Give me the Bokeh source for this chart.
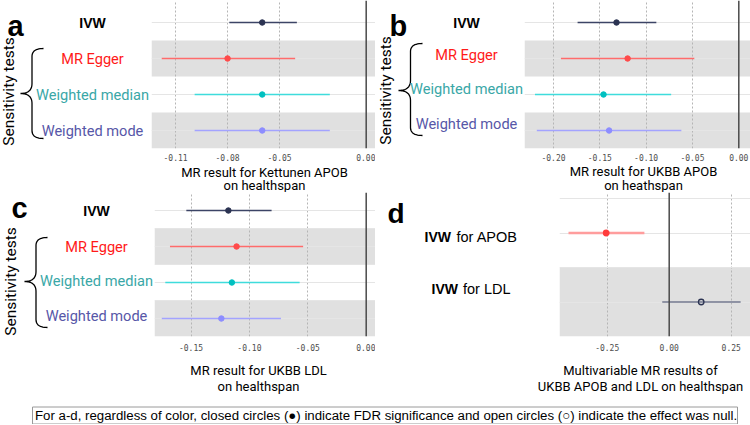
import numpy as np
from bokeh.plotting import figure
from bokeh.layouts import row, column
from bokeh.models import Range1d, FixedTicker, NumeralTickFormatter, Span
from bokeh.core.properties import value
from bokeh.embed import file_html
from bokeh.resources import INLINE

# ---------------- data ----------------
methods = ["IVW", "MR Egger", "Weighted median", "Weighted mode"]
method_rows = [4, 3, 2, 1]

a_est = [-0.060, -0.080, -0.060, -0.060]
a_lo = [-0.079, -0.118, -0.099, -0.099]
a_hi = [-0.040, -0.041, -0.021, -0.021]

b_est = [-0.132, -0.120, -0.146, -0.140]
b_lo = [-0.174, -0.192, -0.220, -0.218]
b_hi = [-0.089, -0.048, -0.073, -0.062]

c_est = [-0.118, -0.111, -0.115, -0.124]
c_lo = [-0.154, -0.168, -0.172, -0.175]
c_hi = [-0.081, -0.054, -0.057, -0.073]

d_labels = ["IVW for APOB", "IVW for LDL"]
d_rows = [2, 1]
d_est = [-0.254, 0.129]
d_lo = [-0.406, -0.028]
d_hi = [-0.100, 0.288]
d_significant = [True, False]

a_ticks = [-0.11, -0.08, -0.05, 0.00]
b_ticks = [-0.20, -0.15, -0.10, -0.05, 0.00]
c_ticks = [-0.15, -0.10, -0.05, 0.00]
d_ticks = [-0.25, 0.00, 0.25]

a_title = ["MR result for Kettunen APOB", "on healthspan"]
b_title = ["MR result for UKBB APOB", "on heathspan"]
c_title = ["MR result for UKBB LDL", "on healthspan"]
d_title = ["Multivariable MR results of", "UKBB APOB and LDL on healthspan"]

group_label = "Sensitivity tests"
panel_letters = ["a", "b", "c", "d"]
footer_note = ("For a-d, regardless of color, closed circles (\u25cf) indicate FDR significance "
               "and open circles (\u25cb) indicate the effect was null.")

line_colors = ["#3c4466", "#ff6b6b", "#3fdcdc", "#a3a3ff"]
point_colors = ["#2b3352", "#ff4a4a", "#00c0c0", "#8d8dff"]
label_colors = ["#000000", "#ff1a1a", "#3aa7a7", "#5757a8"]
d_line_colors = ["#ff9d9d", "#3c4466"]
d_point_colors = ["#ff3c3c", "#2b3352"]
d_line_widths = [2.5, 1.2]

BAND = "#e0e0e0"
W = 750


# ---------------- helpers ----------------
def plot_fig(width, height, bb, bt, xr, yr, ticks, standoff, bands):
    p = figure(width=width, height=height, x_range=Range1d(*xr), y_range=yr,
               toolbar_location=None, output_backend="svg", y_axis_location=None,
               min_border_left=0, min_border_right=0, min_border_top=bt,
               min_border_bottom=bb)
    p.outline_line_color = None
    p.quad(left=xr[0], right=xr[1], bottom=[b - 0.5 for b in bands],
           top=[b + 0.5 for b in bands], fill_color=BAND, line_color=None, level="image")
    p.xgrid.ticker = FixedTicker(ticks=[t for t in ticks if t != 0])
    p.xgrid.grid_line_color = "#b5b5b5"
    p.xgrid.grid_line_dash = "2 2"
    p.xgrid.grid_line_width = 1
    ax = p.xaxis[0]
    ax.ticker = FixedTicker(ticks=ticks)
    ax.formatter = NumeralTickFormatter(format="0.00")
    ax.axis_line_color = None
    ax.major_tick_line_color = None
    ax.minor_tick_line_color = None
    ax.major_tick_out = 0
    ax.major_tick_in = 0
    ax.minor_tick_out = 0
    ax.major_label_standoff = standoff
    ax.major_label_text_font = "DejaVu Sans Mono"
    ax.major_label_text_font_size = "8px"
    ax.major_label_text_color = "#4d4d4d"
    p.add_layout(Span(location=0, dimension="height", line_color="#4a4a4a", line_width=1.5))
    return p


def lab_fig(width, height, bb, bt, left, yr):
    p = figure(width=width, height=height, x_range=Range1d(left, left + width), y_range=yr,
               toolbar_location=None, output_backend="svg", x_axis_location=None,
               y_axis_location=None, min_border_left=0, min_border_right=0,
               min_border_top=bt, min_border_bottom=bb)
    p.outline_line_color = None
    p.grid.visible = False
    return p


def strip_fig(height, top_px):
    p = figure(width=W, height=height, x_range=Range1d(0, W),
               y_range=Range1d(top_px + height, top_px),
               toolbar_location=None, output_backend="svg", x_axis_location=None,
               y_axis_location=None, min_border_left=0, min_border_right=0,
               min_border_top=0, min_border_bottom=0)
    p.outline_line_color = None
    p.grid.visible = False
    return p


def titles(p, lines, x, ys):
    p.text(x=[x, x], y=ys, text=lines, text_font=value("Roboto"),
           text_font_size=value("13px"), text_color="black",
           text_align="center", text_baseline="middle")


def yconv(px, fb, unit):
    return 0.5 + (fb - px) / unit


def method_labels(p, cx, offsets, unit):
    ys = [r - o / unit for r, o in zip(method_rows, offsets)]
    p.text(x=[cx], y=[ys[0]], text=[methods[0]], text_font=value("Liberation Sans"),
           text_font_style="bold", text_font_size=value("14px"), text_color="black",
           text_align="center", text_baseline="middle")
    p.text(x=[cx] * 3, y=ys[1:], text=methods[1:], text_color=label_colors[1:],
           text_font=value("Roboto"), text_font_size=value("14.6px"),
           text_align="center", text_baseline="middle")


def brace(p, xt, xh, yt, ym, yb, fb, unit, r1=8, r2=10):
    xb = xt + 0.5 * (xh - xt)
    t = np.linspace(0, 1, 14)

    def qb(p0, c, p1):
        return (list((1 - t) ** 2 * p0[0] + 2 * (1 - t) * t * c[0] + t ** 2 * p1[0]),
                list((1 - t) ** 2 * p0[1] + 2 * (1 - t) * t * c[1] + t ** 2 * p1[1]))
    xs, ys = [], []
    for seg in [qb((xh, yt), (xb, yt), (xb, yt + r1)),
                ([xb, xb], [yt + r1, ym - r2]),
                qb((xb, ym - r2), (xb, ym), (xt, ym)),
                qb((xt, ym), (xb, ym), (xb, ym + r2)),
                ([xb, xb], [ym + r2, yb - r1]),
                qb((xb, yb - r1), (xb, yb), (xh, yb))]:
        xs += list(seg[0])
        ys += list(seg[1])
    p.line(x=xs, y=[yconv(v, fb, unit) for v in ys], line_color="black", line_width=1.3)


def side_text(p, x, py, fb, unit):
    p.text(x=[x], y=[yconv(py, fb, unit)], text=[group_label], angle=np.pi / 2,
           text_font=value("Roboto"), text_font_size=value("15.5px"), text_color="black",
           text_align="center", text_baseline="middle")


def letter(p, x, py, fb, unit, txt, size="29px"):
    p.text(x=[x], y=[yconv(py, fb, unit)], text=[txt], text_font=value("Liberation Sans"),
           text_font_style="bold", text_font_size=value(size), text_color="black",
           text_align="left", text_baseline="alphabetic")


def method_data(p, est, lo, hi):
    p.segment(x0=lo, y0=method_rows, x1=hi, y1=method_rows, line_color=line_colors,
              line_width=1.5)
    p.scatter(x=est, y=method_rows, size=5.5, fill_color=point_colors,
              line_color=point_colors)


# ---------------- top row (page y 0..165, frame 0..148) ----------------
TOP_H, TOP_BB, TOP_FB = 165, 17, 148
yrA = Range1d(0.5, 0.5 + 148 / 36)
yrB = Range1d(0.5, 0.5 + 148 / 36)

labA = lab_fig(151, TOP_H, TOP_BB, 0, 0, yrA)
letter(labA, 7, 25, TOP_FB, 36, panel_letters[0])
side_text(labA, 8.5, 91, TOP_FB, 36)
brace(labA, 20, 43, 48, 93, 138, TOP_FB, 36)
method_labels(labA, 92, [0, 0, 0, 0], 36)

pA = plot_fig(224, TOP_H, TOP_BB, 0, (-0.1239, 0.00537), yrA, a_ticks, 5, [3, 1])
method_data(pA, a_est, a_lo, a_hi)

labB = lab_fig(149, TOP_H, TOP_BB, 0, 375, yrB)
letter(labB, 389, 25, TOP_FB, 36, panel_letters[1])
side_text(labB, 385, 90, TOP_FB, 36)
brace(labB, 398, 422, 43, 90, 135, TOP_FB, 36)
method_labels(labB, 466, [0, -4, -6, -7], 36)

pB = plot_fig(226, TOP_H, TOP_BB, 0, (-0.2313, 0.01263), yrB, b_ticks, 5, [3, 1])
method_data(pB, b_est, b_lo, b_hi)

# ---------------- title strip 1 (page y 165..192) ----------------
strip1 = strip_fig(27, 165)
titles(strip1, a_title, 264, [172, 185])
titles(strip1, b_title, 643, [170.5, 184.5])

# ---------------- bottom row (page y 192..360, frame 192..336) ----------------
BOT_H, BOT_BB, BOT_FB = 168, 24, 336
yrC = Range1d(0.5, 0.5 + 144 / 36)
yrD = Range1d(0.5, 0.5 + 144 / 69)

labC = lab_fig(154, BOT_H, BOT_BB, 0, 0, yrC)
letter(labC, 11, 207, BOT_FB, 36, panel_letters[2])
side_text(labC, 10, 281, BOT_FB, 36)
brace(labC, 24, 47, 237, 281, 327, BOT_FB, 36)
method_labels(labC, 96, [0, 0, -1.5, -3], 36)

pC = plot_fig(221, BOT_H, BOT_BB, 0, (-0.18125, 0.00796), yrC, c_ticks, 7, [3, 1])
method_data(pC, c_est, c_lo, c_hi)

labD = lab_fig(184, BOT_H, BOT_BB, 0, 375, yrD)
letter(labD, 387, 213, BOT_FB, 69, panel_letters[3], size="28px")
d_off = [4.2, -12.8]
d_label_y = [r - o / 69 for r, o in zip(d_rows, d_off)]
d_bold = [s.split(" ", 1)[0] for s in d_labels]
d_rest = [s.split(" ", 1)[1] for s in d_labels]
labD.text(x=[424, 431], y=d_label_y, text=d_bold, text_font=value("Liberation Sans"),
          text_font_style="bold", text_font_size=value("14px"), text_color="black",
          text_align="left", text_baseline="middle")
labD.text(x=[456, 462.5], y=d_label_y, text=d_rest, text_font=value("Liberation Sans"),
          text_font_size=value("14.5px"), text_color="black",
          text_align="left", text_baseline="middle")

pD = plot_fig(191, BOT_H, BOT_BB, 0, (-0.4423, 0.3278), yrD, d_ticks, 7, [1])
pD.segment(x0=d_lo, y0=d_rows, x1=d_hi, y1=d_rows, line_color=d_line_colors,
           line_width=d_line_widths)
pD.scatter(x=d_est, y=d_rows, size=5.5, line_color=d_point_colors, fill_color=d_point_colors,
           fill_alpha=[1.0 if s else 0.0 for s in d_significant], line_width=1.3)

# ---------------- title strip 2 (page y 360..400) ----------------
strip2 = strip_fig(40, 360)
titles(strip2, c_title, 258, [370, 386])
titles(strip2, d_title, 640, [370, 386])

# ---------------- footer (page y 400..424) ----------------
foot = strip_fig(24, 400)
foot.quad(left=32, right=737, top=406.5, bottom=423.5, fill_color="white",
          line_color="#9a9a9a", line_width=1)
foot.text(x=[34.5], y=[415], text=[footer_note], text_font=value("Liberation Sans"),
          text_font_size=value("13.25px"), text_color="black", text_align="left",
          text_baseline="middle")

layout = column(row(labA, pA, labB, pB), strip1, row(labC, pC, labD, pD), strip2, foot)

open("out.html", "w").write(file_html(layout, INLINE))
